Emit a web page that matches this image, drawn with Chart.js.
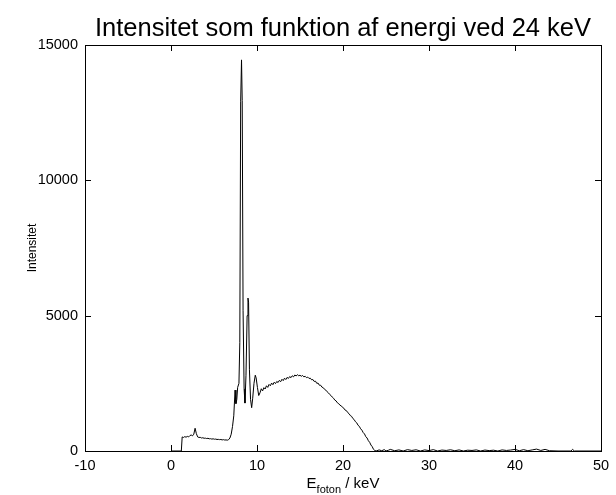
<!DOCTYPE html>
<html>
<head>
<meta charset="utf-8">
<script src="https://cdn.jsdelivr.net/npm/chart.js@4.4.0/dist/chart.umd.min.js"></script>
<style>
  html, body { margin: 0; padding: 0; background: #fff; }
  #ramme { position: relative; width: 616px; height: 495px; overflow: hidden; }
  #xtitel {
    position: absolute; left: 243px; width: 200px; top: 475px;
    text-align: center; font-family: 'Liberation Sans', Arial, sans-serif;
    font-size: 15px; line-height: 15px; color: #000;
  }
  #xtitel sub { font-size: 11px; vertical-align: -5px; line-height: 0; }
</style>
</head>
<body>
<div id="ramme">
  <canvas id="grafik" width="616" height="495"></canvas>
  <div id="xtitel">E<sub>foton</sub> / keV</div>
</div>
<script>
// Spektrum (energi i keV, intensitet i tællinger)
const energi = [
  0, 1.2, 1.3, 1.45, 1.6, 1.75, 1.9, 2.05, 2.2, 2.35, 2.5, 2.65, 2.8, 2.95,
  3.1, 3.25, 3.4, 3.55, 3.7, 3.85, 4.0, 4.15, 4.3, 4.45, 4.6, 4.75, 4.9, 5.05,
  5.2, 5.35, 5.5, 5.65, 5.8, 5.95, 6.1, 6.25, 6.4, 6.55, 6.7, 6.85, 7.0, 7.15,
  7.3, 7.45, 7.55, 7.65, 7.75, 7.9, 8.0, 8.1, 8.2, 8.28, 8.38, 8.5, 8.6, 8.72,
  8.85, 8.95, 9.02, 9.12, 9.25, 9.38, 9.5, 9.65, 9.8, 9.9, 10.05, 10.2, 10.35,
  10.5, 10.65, 10.8, 10.95, 11.1, 11.25, 11.4, 11.55, 11.7, 11.85, 12.0, 12.15,
  12.3, 12.45, 12.6, 12.75, 12.9, 13.05, 13.2, 13.35, 13.5, 13.65, 13.8, 13.95,
  14.1, 14.25, 14.4, 14.55, 14.7, 14.85, 15.0, 15.15, 15.3, 15.45, 15.6, 15.75,
  15.9, 16.05, 16.2, 16.35, 16.5, 16.65, 16.8, 16.95, 17.1, 17.25, 17.4, 17.55,
  17.7, 17.85, 18.0, 18.15, 18.3, 18.45, 18.6, 18.75, 18.9, 19.05, 19.2, 19.35,
  19.5, 19.65, 19.8, 19.95, 20.1, 20.25, 20.4, 20.55, 20.7, 20.85, 21.0, 21.15,
  21.3, 21.45, 21.6, 21.75, 21.9, 22.05, 22.2, 22.35, 22.5, 22.65, 22.8, 22.95,
  23.1, 23.25, 23.4, 23.55, 23.7, 23.85, 24.2, 24.5, 24.8, 25.0, 25.3, 25.5,
  26, 26.5, 27, 27.5, 28, 28.5, 29, 29.5, 30, 30.5, 31, 31.5, 32, 32.5, 33,
  33.5, 34, 34.5, 35, 35.5, 36, 36.5, 37, 37.5, 38, 38.5, 39, 39.5, 40, 40.5,
  41, 41.5, 42, 42.5, 43, 43.5, 44, 45, 46.5, 46.7, 46.9, 50
];
const intensitet = [
  0, 0, 520, 500, 530, 510, 540, 520, 570, 590, 560, 620, 840, 640,
  520, 500, 505, 480, 490, 470, 475, 460, 470, 450, 455, 440, 450, 435,
  440, 425, 430, 420, 425, 410, 420, 405, 410, 400, 420, 480, 620, 900,
  1300, 2250, 1750, 1900, 2350, 2500, 4000, 12900, 14450, 12950, 5200, 2300, 1770, 2800,
  5000, 5650, 5500, 3000, 1900, 1600, 1950, 2500, 2800, 2700, 2350, 2050, 2150,
  2300, 2220, 2340, 2290, 2410, 2350, 2460, 2410, 2510, 2450, 2540, 2490,
  2570, 2530, 2610, 2560, 2650, 2600, 2690, 2640, 2720, 2680, 2750, 2710,
  2780, 2740, 2810, 2770, 2820, 2780, 2800, 2760, 2790, 2740, 2760, 2710,
  2730, 2680, 2690, 2630, 2640, 2570, 2580, 2500, 2510, 2430, 2430, 2360,
  2340, 2280, 2250, 2190, 2150, 2090, 2050, 1990, 1950, 1880, 1850, 1780,
  1750, 1690, 1670, 1610, 1580, 1510, 1490, 1420, 1380, 1310, 1280, 1200,
  1160, 1080, 1040, 950, 910, 820, 770, 680, 630, 530, 480, 380,
  320, 220, 160, 60, 20, 0, 40, 10, 50, 0, 30, 60,
  10, 40, 0, 50, 20, 45, 0, 40, 15, 50, 0, 35, 20, 45, 10,
  40, 0, 30, 20, 40, 0, 35, 15, 30, 0, 40, 20, 35, 60, 10,
  50, 10, 40, 70, 20, 60, 10, 0, 0, 60, 0, 0
];

const xTicks = [-10, 0, 10, 20, 30, 40, 50];
const yTicks = [0, 5000, 10000, 15000];

const punkter = energi.map((e, i) => ({ x: e, y: intensitet[i] }));

const skrift = "'Liberation Sans', Arial, sans-serif";

// Kasse og indadvendte tickmærker som i MATLAB
const kassePlugin = {
  id: 'kasse',
  afterDraw(chart) {
    const { ctx, chartArea: a, scales } = chart;
    const tl = 6;
    ctx.save();
    ctx.strokeStyle = '#000';
    ctx.lineWidth = 1;
    ctx.strokeRect(Math.round(a.left) + 0.5, Math.round(a.top) + 0.5,
      Math.round(a.right - a.left), Math.round(a.bottom - a.top));
    ctx.beginPath();
    xTicks.forEach(v => {
      const px = Math.round(scales.x.getPixelForValue(v)) + 0.5;
      ctx.moveTo(px, a.bottom); ctx.lineTo(px, a.bottom - tl);
      ctx.moveTo(px, a.top); ctx.lineTo(px, a.top + tl);
    });
    yTicks.forEach(v => {
      const py = Math.round(scales.y.getPixelForValue(v)) + 0.5;
      ctx.moveTo(a.left, py); ctx.lineTo(a.left + tl, py);
      ctx.moveTo(a.right, py); ctx.lineTo(a.right - tl, py);
    });
    ctx.stroke();
    ctx.restore();
  }
};

const ctx = document.getElementById('grafik').getContext('2d');

new Chart(ctx, {
  type: 'line',
  data: {
    datasets: [{
      data: punkter,
      borderColor: '#000',
      borderWidth: 1,
      pointRadius: 0,
      tension: 0,
      fill: false
    }]
  },
  options: {
    responsive: false,
    animation: false,
    devicePixelRatio: 1,
    layout: { padding: { top: 0, right: 15, bottom: 0, left: 0 } },
    plugins: {
      legend: { display: false },
      tooltip: { enabled: false },
      title: {
        display: true,
        fullSize: false,
        text: 'Intensitet som funktion af energi ved 24 keV',
        color: '#000',
        font: { family: skrift, size: 25.5, weight: 'normal' },
        padding: { top: 13.7, bottom: 0.7 }
      }
    },
    scales: {
      x: {
        type: 'linear',
        min: -10,
        max: 50,
        grid: { display: false, drawTicks: false },
        border: { display: false },
        afterFit: s => { s.height = 44; },
        afterBuildTicks: s => { s.ticks = xTicks.map(v => ({ value: v })); },
        ticks: {
          color: '#000',
          padding: 6,
          maxRotation: 0,
          font: { family: skrift, size: 14.5 },
          callback: v => String(v)
        }
      },
      y: {
        min: 0,
        max: 15000,
        grid: { display: false, drawTicks: false },
        border: { display: false },
        afterFit: s => { s.width = 85; },
        afterBuildTicks: s => { s.ticks = yTicks.map(v => ({ value: v })); },
        title: {
          display: true,
          text: 'Intensitet',
          color: '#000',
          font: { family: skrift, size: 12 },
          padding: { top: 25, bottom: 0 }
        },
        ticks: {
          color: '#000',
          padding: 7,
          font: { family: skrift, size: 14.5 },
          callback: v => String(v)
        }
      }
    }
  },
  plugins: [kassePlugin]
});
</script>
</body>
</html>
